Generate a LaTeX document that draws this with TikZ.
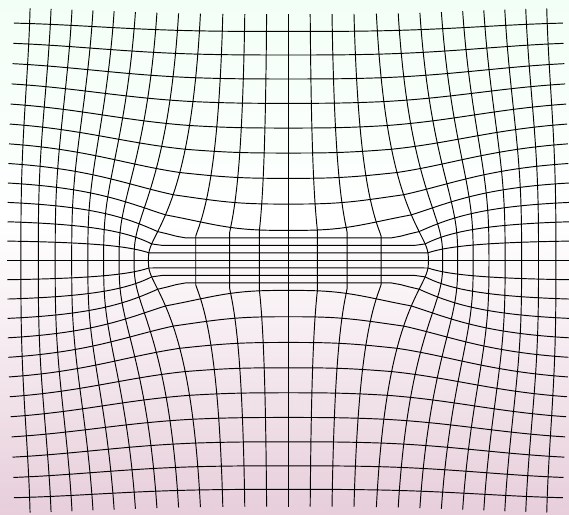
\documentclass[tikz,border=0pt]{standalone}
\usepackage{tikz}
\definecolor{meshtop}{RGB}{242,255,246}
\definecolor{meshbot}{RGB}{231,206,218}

\begin{document}
\begin{tikzpicture}[x=1pt, y=-1pt,
    gridline/.style={line width=0.95pt, line join=round, draw=black},
    declare function={
      rho(\a,\b)=max(abs(\a)^3+abs(\b)^3,64)^(1/3);
      decay(\r)=(4/\r)^1.32*(1-(\r/16.5)^2)^2/0.885914;
      clampu(\a)=max(-4,min(4,\a));
      quint(\c)=\c*\c*\c*\c*\c;
      fx(\a)=0.554*clampu(\a)+0.0017422*quint(clampu(\a))+\a-clampu(\a);
      mapx(\a,\b)=288.4+21.5*\a+13.5*fx(\a)*decay(rho(\a,\b));
      mapy(\a,\b)=260.4+19.8*\b-12.3*\b*decay(rho(\a,\b));
    }]
  \useasboundingbox (0,0) rectangle (569,514);
  \shade[top color=meshtop, bottom color=white] (0,0) rectangle (569,225);
  \shade[top color=white, bottom color=meshbot] (0,225) rectangle (569,514);

  % deformed mesh: columns and rows
  \foreach \k in {-12,...,12} {
    \draw[gridline] plot[domain=-12.75:12.75, samples=103] ({mapx(\k,\x)},{mapy(\k,\x)});
    \draw[gridline] plot[domain=-12.75:12.75, samples=103] ({mapx(\x,\k)},{mapy(\x,\k)});
  }
\end{tikzpicture}
\end{document}
